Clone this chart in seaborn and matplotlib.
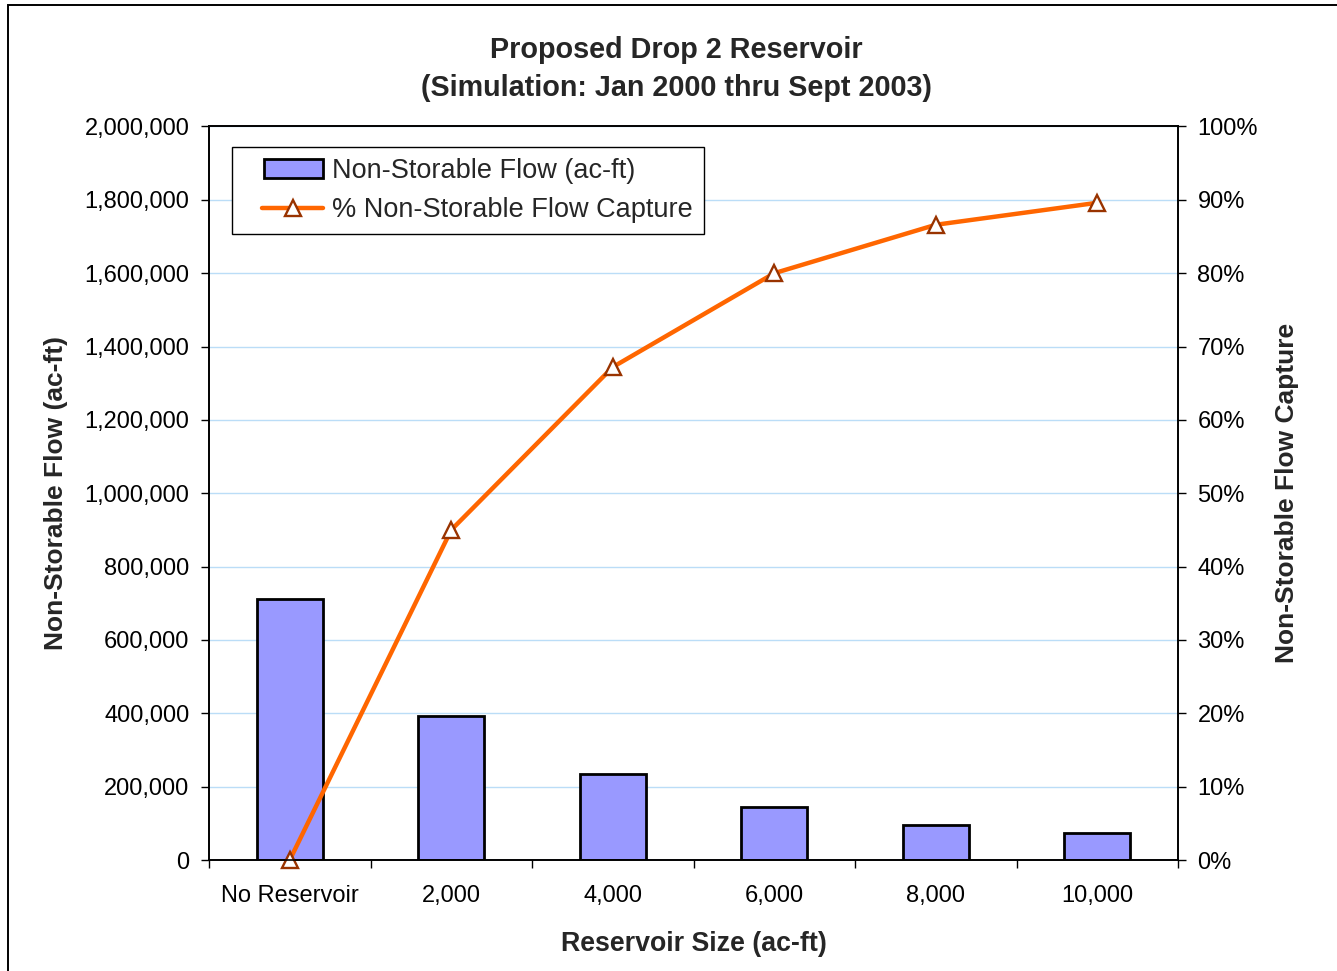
import matplotlib
matplotlib.use("Agg")
import numpy as np
import pandas as pd
import matplotlib.pyplot as plt
import seaborn as sns
from matplotlib.ticker import FuncFormatter, FixedLocator, MultipleLocator
from matplotlib.patches import Rectangle
from matplotlib.legend_handler import HandlerPatch, HandlerLine2D, update_from_first_child

# Reservoir scenarios and simulation results
sizes = ["No Reservoir", "2,000", "4,000", "6,000", "8,000", "10,000"]
flow = [712000, 393000, 235000, 145000, 96000, 74000]          # ac-ft
capture = [0.0, 45.0, 67.2, 80.0, 86.6, 89.6]                   # percent

sns.set_style("white")
plt.rcParams["font.family"] = ["Liberation Sans", "DejaVu Sans"]

W, H = 1337, 971
fig = plt.figure(figsize=(W / 100, H / 100), dpi=100)
fig.patch.set_facecolor("white")

# chart frame (runs off the right and bottom edges)
fig.patches.append(Rectangle((8 / W, -0.2), 1.2, 1.2 - 5 / H, transform=fig.transFigure,
                             fill=False, edgecolor="black", linewidth=1.4, zorder=0))

left, right, top, bottom = 209 / W, 1178 / W, 1 - 126.5 / H, 1 - 860 / H
ax = fig.add_axes([left, bottom, right - left, top - bottom])

df = pd.DataFrame({"pos": np.arange(len(sizes)), "size": sizes,
                   "flow": flow, "capture": capture})

sns.barplot(data=df, x="size", y="flow", ax=ax, color="#9999FF", saturation=1,
            edgecolor="black", linewidth=2, width=0.41,
            label="Non-Storable Flow (ac-ft)")

ax.set_xlim(-0.5, len(sizes) - 0.5)
ax.set_ylim(0, 2_000_000)
ax.yaxis.set_major_locator(MultipleLocator(200_000))
ax.yaxis.set_major_formatter(FuncFormatter(lambda v, p: f"{v:,.0f}"))
ax.yaxis.grid(True, color="#BBDDF7", linewidth=1)
ax.set_axisbelow(True)

ax.xaxis.set_major_locator(FixedLocator(df["pos"]))
ax.set_xticklabels(sizes)
ax.xaxis.set_minor_locator(FixedLocator(np.arange(-0.5, len(sizes), 1.0)))
ax.tick_params(axis="x", which="major", length=0, pad=18, labelsize=17, colors="black")
ax.tick_params(axis="x", which="minor", bottom=True, length=6, width=1, color="black", direction="out")
ax.tick_params(axis="y", left=True, length=6, width=1, color="black", direction="out",
               pad=8, labelsize=17, labelcolor="black")

for s in ax.spines.values():
    s.set_visible(True)
    s.set_color("black")
    s.set_linewidth(1.2)

ax.set_xlabel("Reservoir Size (ac-ft)", fontsize=19.3, fontweight="bold", labelpad=17)
ax.set_ylabel("Non-Storable Flow (ac-ft)", fontsize=19, fontweight="bold", labelpad=12)

ax2 = ax.twinx()
sns.lineplot(data=df, x="pos", y="capture", ax=ax2, color="#FF6600", linewidth=3.2,
             marker="^", markersize=11.5, markerfacecolor="white",
             markeredgecolor="#993300", markeredgewidth=1.7, clip_on=False,
             label="% Non-Storable Flow Capture", sort=False)
ax2.set_ylim(0, 100)
ax2.yaxis.set_major_locator(MultipleLocator(10))
ax2.yaxis.set_major_formatter(FuncFormatter(lambda v, p: f"{v:.0f}%"))
ax2.tick_params(axis="y", right=True, length=6, width=1, color="black", direction="out",
                pad=8, labelsize=17, labelcolor="black")
ax2.set_ylabel("Non-Storable Flow Capture", fontsize=19, fontweight="bold", labelpad=12,
               rotation=90)
for s in ax2.spines.values():
    s.set_color("black")
    s.set_linewidth(1.2)

h1, l1 = ax.get_legend_handles_labels()
h2, l2 = ax2.get_legend_handles_labels()
if ax2.get_legend():
    ax2.get_legend().remove()
if ax.get_legend():
    ax.get_legend().remove()
hmap = {h1[0]: HandlerPatch(xpad=0.78, update_func=update_from_first_child),
        h2[0]: HandlerLine2D(xpad=0.72)}
leg = ax2.legend(h1 + h2, l1 + l2, loc="upper left", handler_map=hmap,
                 bbox_to_anchor=(232 / W, 1 - 147 / H), bbox_transform=fig.transFigure,
                 borderaxespad=0, fontsize=19.5, frameon=True, fancybox=False,
                 edgecolor="black", framealpha=1, handlelength=2.95, handletextpad=0.35,
                 borderpad=0.4, labelspacing=0.5)
leg.get_frame().set_linewidth(1.0)

fig.text(676 / W, 1 - 50 / H, "Proposed Drop 2 Reservoir", ha="center", va="center",
         fontsize=20.7, fontweight="bold")
fig.text(676 / W, 1 - 88 / H, "(Simulation: Jan 2000 thru Sept 2003)", ha="center",
         va="center", fontsize=20.7, fontweight="bold")

fig.savefig("out.png", dpi=100, facecolor="white")
